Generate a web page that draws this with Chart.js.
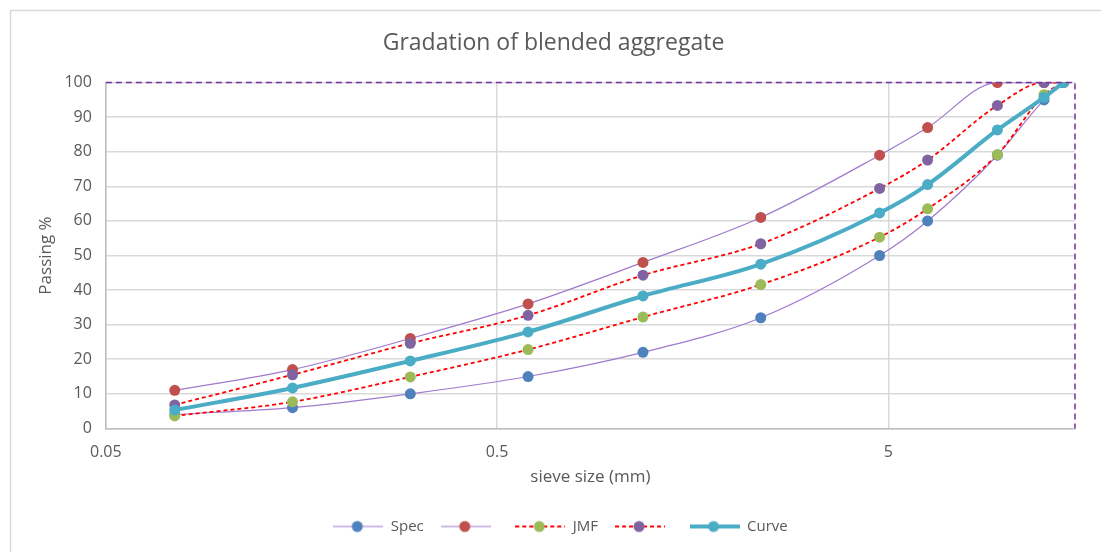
<!DOCTYPE html>
<html>
<head>
<meta charset="utf-8">
<script src="https://cdn.jsdelivr.net/npm/chart.js@4/dist/chart.umd.min.js"></script>
<style>
  html, body { margin: 0; padding: 0; background: #fff; }
  #wrap { position: relative; width: 1101px; height: 552px; }
</style>
</head>
<body>
<div id="wrap"><canvas id="gradChart" width="1101" height="552"></canvas></div>
<script>
// tamaños de tamiz (mm) y % que pasa
const SIEVES      = [0.075, 0.15, 0.3, 0.6, 1.18, 2.36, 4.75, 6.3, 9.5, 12.5, 14];
const SPEC_LOWER  = [4, 6, 10, 15, 22, 32, 50, 60, 79, 95, 100];
const SPEC_UPPER  = [11, 17, 26, 36, 48, 61, 79, 87, 100, 100, 100];
const JMF_LOWER   = [3.6, 7.7, 14.9, 22.8, 32.2, 41.6, 55.3, 63.5, 79.2, 96.5, 100];
const JMF_UPPER   = [6.8, 15.5, 24.6, 32.7, 44.3, 53.4, 69.4, 77.6, 93.4, 100, 100];
const CURVE       = [5.3, 11.7, 19.5, 27.9, 38.3, 47.5, 62.3, 70.5, 86.3, 95.7, 100];
const X_TICKS     = [0.05, 0.5, 5];
const Y_TICKS     = [0, 10, 20, 30, 40, 50, 60, 70, 80, 90, 100];

const FONT = '"Open Sans", Lato, sans-serif';
const GREY = '#595959';

const toPoints = vals => vals.map((v, i) => ({ x: SIEVES[i], y: v }));

// icono de leyenda: línea + marcador
function legendIcon(lineColor, lineWidth, dash, markerColor) {
  const c = document.createElement('canvas');
  c.width = 50; c.height = 14;
  const g = c.getContext('2d');
  g.strokeStyle = lineColor;
  g.lineWidth = lineWidth;
  g.setLineDash(dash);
  g.beginPath(); g.moveTo(0, 7); g.lineTo(50, 7); g.stroke();
  g.setLineDash([]);
  g.fillStyle = markerColor;
  g.beginPath(); g.arc(24, 7, 5.5, 0, Math.PI * 2); g.fill();
  return c;
}

function series(label, data, lineColor, lineWidth, dash, markerColor) {
  return {
    label,
    data: toPoints(data),
    borderColor: lineColor,
    borderWidth: lineWidth,
    borderDash: dash,
    backgroundColor: markerColor,
    pointBackgroundColor: markerColor,
    pointBorderColor: markerColor,
    pointRadius: 5.5,
    pointBorderWidth: 0,
    tension: 0.35,
    cubicInterpolationMode: 'monotone',
    legendIcon: legendIcon(lineColor, lineWidth, dash, markerColor)
  };
}

const datasets = [
  series('Spec',  SPEC_LOWER, '#A07ACD', 1.2, [],     '#4F81BD'),
  series('',      SPEC_UPPER, '#A07ACD', 1.2, [],     '#C0504D'),
  series('JMF',   JMF_LOWER,  '#FF0000', 1.8, [4, 3], '#9BBB59'),
  series('',      JMF_UPPER,  '#FF0000', 1.8, [4, 3], '#8064A2'),
  series('Curve', CURVE,      '#4BACC6', 4,   [],     '#4BACC6')
];
// dibujar la curva por encima
datasets.forEach((d, i) => { d.order = 5 - i; });

// marco del gráfico y borde punteado del área de trazado
const framePlugin = {
  id: 'frame',
  afterLayout(chart) {
    // leyenda un poco a la derecha, como en el original
    chart.legend.left += 7;
    chart.legend.right += 7;
  },
  beforeDraw(chart) {
    const { ctx } = chart;
    ctx.save();
    ctx.strokeStyle = '#D9D9D9';
    ctx.lineWidth = 1.5;
    ctx.beginPath();
    ctx.moveTo(10.5, chart.height); ctx.lineTo(10.5, 10.5); ctx.lineTo(chart.width, 10.5);
    ctx.stroke();
    ctx.restore();
  },
  afterDatasetsDraw(chart) {
    const { ctx, chartArea: a } = chart;
    ctx.save();
    ctx.strokeStyle = '#7030A0';
    ctx.lineWidth = 1.5;
    ctx.setLineDash([6, 4]);
    ctx.beginPath();
    ctx.moveTo(a.left, a.top); ctx.lineTo(a.right, a.top); ctx.lineTo(a.right, a.bottom);
    ctx.stroke();
    ctx.restore();
  }
};

new Chart(document.getElementById('gradChart'), {
  type: 'line',
  data: { datasets },
  plugins: [framePlugin],
  options: {
    responsive: false,
    animation: false,
    layout: { padding: { left: 32, right: 26, top: 30, bottom: 8 } },
    plugins: {
      title: {
        display: true,
        text: 'Gradation of blended aggregate',
        color: GREY,
        font: { family: FONT, size: 23, weight: 'normal' },
        padding: { top: 0, bottom: 25 }
      },
      legend: {
        position: 'bottom',
        labels: {
          usePointStyle: true,
          pointStyleWidth: 50,
          padding: 17,
          color: GREY,
          font: { family: FONT, size: 15 },
          generateLabels(chart) {
            return chart.data.datasets.map((d, i) => ({
              text: d.label,
              pointStyle: d.legendIcon,
              fontColor: GREY,
              hidden: false,
              datasetIndex: i,
              lineWidth: 0
            }));
          }
        }
      },
      tooltip: { enabled: false }
    },
    scales: {
      x: {
        type: 'logarithmic',
        min: 0.05,
        max: 15,
        afterBuildTicks(scale) { scale.ticks = X_TICKS.map(v => ({ value: v })); },
        ticks: {
          color: GREY,
          font: { family: FONT, size: 16 },
          padding: 14,
          maxRotation: 0,
          callback: v => String(v)
        },
        grid: { color: '#D9D9D9', lineWidth: 1.5, drawTicks: false },
        border: { color: '#BFBFBF', width: 1.5 },
        title: {
          display: true,
          text: 'sieve size (mm)',
          color: GREY,
          font: { family: FONT, size: 17 },
          padding: { top: -9, bottom: 15 }
        }
      },
      y: {
        min: 0,
        max: 100,
        afterBuildTicks(scale) { scale.ticks = Y_TICKS.map(v => ({ value: v })); },
        ticks: {
          color: GREY,
          font: { family: FONT, size: 16 },
          padding: 14
        },
        grid: { color: '#D9D9D9', lineWidth: 1.5, drawTicks: false },
        border: { color: '#BFBFBF', width: 1.5 },
        title: {
          display: true,
          text: 'Passing %',
          color: GREY,
          font: { family: FONT, size: 17 },
          padding: { bottom: -6 }
        }
      }
    }
  }
});
</script>
</body>
</html>
